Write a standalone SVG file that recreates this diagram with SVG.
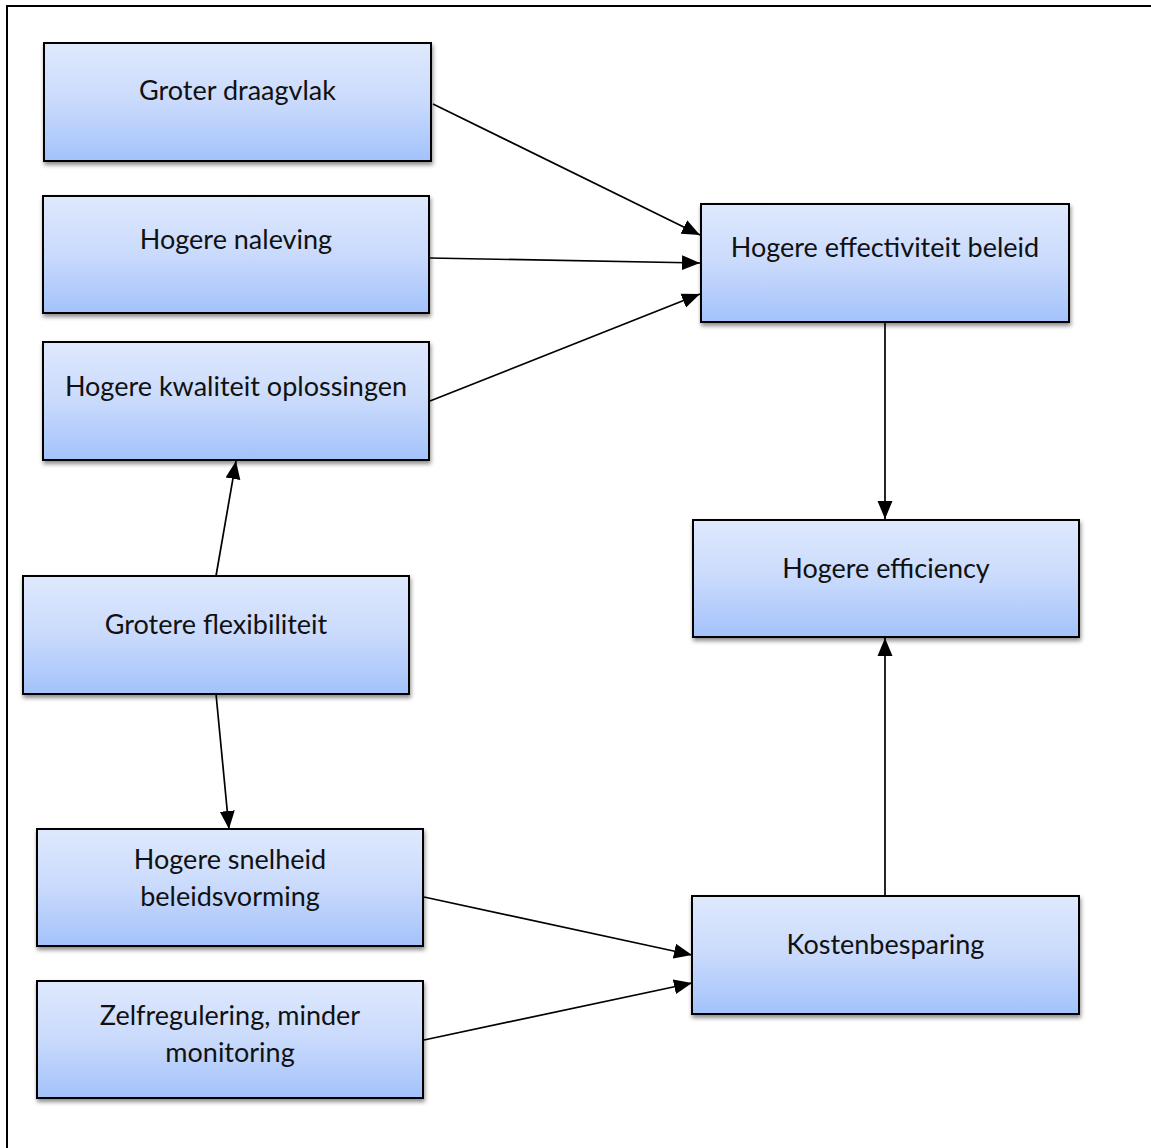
<svg xmlns="http://www.w3.org/2000/svg" width="1151" height="1148" viewBox="0 0 1151 1148">
  <defs>
    <linearGradient id="boxFill" x1="0" y1="0" x2="0" y2="1">
      <stop offset="0" stop-color="#dfe9fd"/>
      <stop offset="0.5" stop-color="#c9dafc"/>
      <stop offset="1" stop-color="#a3c2fb"/>
    </linearGradient>
    <filter id="shadow" x="-5%" y="-10%" width="115%" height="130%">
      <feDropShadow dx="1" dy="3" stdDeviation="2" flood-color="#000" flood-opacity="0.45"/>
    </filter>
    <marker id="arrow" markerUnits="userSpaceOnUse" markerWidth="18" markerHeight="16" viewBox="0 0 18 16" refX="18" refY="8" orient="auto">
      <path d="M0,0.5 L18,8 L0,15.5 Z" fill="#000"/>
    </marker>
    <style>
      .box { fill: url(#boxFill); stroke: #000; stroke-width: 2; filter: url(#shadow); }
      .label { font-family: "Lato", "Open Sans", "Liberation Sans", sans-serif; font-size: 27px; fill: #111; text-anchor: middle; }
      .edge { stroke: #000; stroke-width: 1.7; fill: none; marker-end: url(#arrow); }
      .frame { stroke: #000; stroke-width: 2; fill: none; }
    </style>
  </defs>

  <rect width="1151" height="1148" fill="#fff"/>
  <!-- page frame (right and bottom sides fall outside the canvas) -->
  <path class="frame" d="M7,1160 L7,6 L1160,6"/>

  <g id="connectors">
    <line class="edge" x1="433" y1="104" x2="700" y2="235"/>
    <line class="edge" x1="430" y1="258" x2="700" y2="263"/>
    <line class="edge" x1="430" y1="401" x2="700" y2="294"/>
    <line class="edge" x1="216" y1="576" x2="236" y2="461"/>
    <line class="edge" x1="216" y1="694" x2="229" y2="829"/>
    <line class="edge" x1="885" y1="322" x2="885" y2="519"/>
    <line class="edge" x1="885" y1="896" x2="885" y2="638"/>
    <line class="edge" x1="424" y1="897" x2="692" y2="955"/>
    <line class="edge" x1="424" y1="1040" x2="692" y2="983"/>
  </g>

  <g id="groter-draagvlak">
    <rect class="box" x="44" y="43" width="387" height="118"/>
    <text class="label" x="237.5" y="100">Groter draagvlak</text>
  </g>
  <g id="hogere-naleving">
    <rect class="box" x="43" y="196" width="386" height="117"/>
    <text class="label" x="236" y="249">Hogere naleving</text>
  </g>
  <g id="hogere-kwaliteit">
    <rect class="box" x="43" y="342" width="386" height="118"/>
    <text class="label" x="236" y="396">Hogere kwaliteit oplossingen</text>
  </g>
  <g id="grotere-flexibiliteit">
    <rect class="box" x="23" y="576" width="386" height="118"/>
    <text class="label" x="216" y="634">Grotere flexibiliteit</text>
  </g>
  <g id="hogere-snelheid">
    <rect class="box" x="37" y="829" width="386" height="117"/>
    <text class="label" x="230" y="869">Hogere snelheid</text>
    <text class="label" x="230" y="906">beleidsvorming</text>
  </g>
  <g id="zelfregulering">
    <rect class="box" x="37" y="981" width="386" height="117"/>
    <text class="label" x="230" y="1025">Zelfregulering, minder</text>
    <text class="label" x="230" y="1062">monitoring</text>
  </g>
  <g id="hogere-effectiviteit">
    <rect class="box" x="701" y="204" width="368" height="118"/>
    <text class="label" x="885" y="257">Hogere effectiviteit beleid</text>
  </g>
  <g id="hogere-efficiency">
    <rect class="box" x="693" y="520" width="386" height="117"/>
    <text class="label" x="886" y="578">Hogere efficiency</text>
  </g>
  <g id="kostenbesparing">
    <rect class="box" x="692" y="896" width="387" height="118"/>
    <text class="label" x="885.5" y="954">Kostenbesparing</text>
  </g>
</svg>
